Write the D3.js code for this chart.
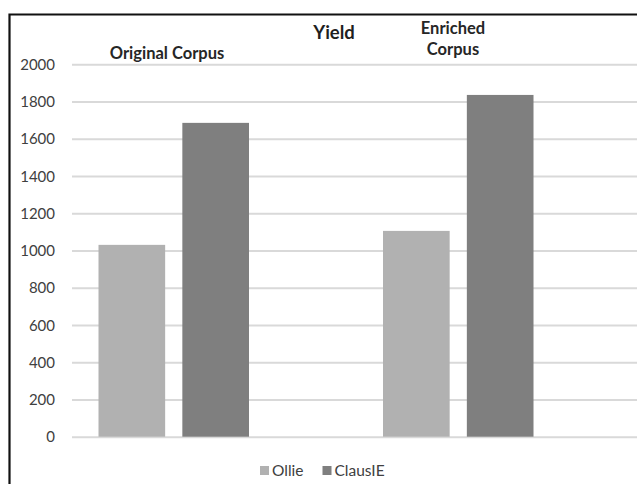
<!DOCTYPE html>
<html>
<head>
<meta charset="utf-8">
<script src="https://cdn.jsdelivr.net/npm/d3@7"></script>
<style>
  html, body { margin: 0; padding: 0; background: #fff; }
  svg { display: block; }
  text { font-family: Lato, "Open Sans", sans-serif; }
</style>
</head>
<body>
<svg id="chart" width="637" height="484"></svg>
<script>
// Yield of extracted facts per system, on the original and enriched corpus
const categories = ["Original Corpus", "Enriched Corpus"];
const series = ["Ollie", "ClausIE"];
const ollieValues = [1030, 1105];
const clausieValues = [1685, 1835];
const yTicks = [0, 200, 400, 600, 800, 1000, 1200, 1400, 1600, 1800, 2000];
const title = "Yield";

const colors = { Ollie: "#b1b1b1", ClausIE: "#7f7f7f" };
const valuesBySeries = { Ollie: ollieValues, ClausIE: clausieValues };

const svg = d3.select("#chart");

// frame around the chart area (right/bottom run past the canvas)
svg.append("path")
  .attr("d", "M9.5,500 V14.5 H660")
  .attr("fill", "none")
  .attr("stroke", "#111")
  .attr("stroke-width", 2.2);

const plot = { left: 72, right: 645, top: 64.2, bottom: 436.7 };

const y = d3.scaleLinear().domain([0, 2000]).range([plot.bottom, plot.top]);

const x0 = d3.scaleBand().domain(categories).range([31.5, 600.5]).paddingInner(0).paddingOuter(0);
const groupWidth = 150.5;
const x1 = d3.scaleBand().domain(series).range([0, groupWidth]).paddingInner(0.205).paddingOuter(0);

// horizontal gridlines with value labels
const yAxis = d3.axisLeft(y).tickValues(yTicks).tickSize(-(plot.right - plot.left)).tickFormat(d3.format("d"));
const gAxis = svg.append("g").attr("transform", `translate(${plot.left},0)`).call(yAxis);
gAxis.select(".domain").remove();
gAxis.selectAll(".tick line").attr("stroke", "#d9d9d9").attr("stroke-width", 2);
gAxis.selectAll(".tick text")
  .attr("fill", "#404040")
  .attr("font-size", "15px")
  .attr("x", 55 - plot.left)
  .attr("dy", "0.34em");

// bars
const groups = svg.append("g").selectAll("g")
  .data(categories)
  .join("g")
  .attr("transform", d => `translate(${x0(d) + x0.bandwidth() / 2 - groupWidth / 2},0)`);

groups.selectAll("rect")
  .data((c, i) => series.map(s => ({ s, v: valuesBySeries[s][i] })))
  .join("rect")
  .attr("x", d => x1(d.s))
  .attr("width", x1.bandwidth())
  .attr("y", d => y(d.v))
  .attr("height", d => y(0) - y(d.v))
  .attr("fill", d => colors[d.s]);

// category captions above the plot
svg.append("text")
  .attr("x", 167).attr("y", 59)
  .attr("text-anchor", "middle")
  .attr("font-size", "16.5px").attr("font-weight", "bold").attr("fill", "#262626")
  .text(categories[0]);

const enriched = svg.append("text")
  .attr("text-anchor", "middle")
  .attr("font-size", "16.5px").attr("font-weight", "bold").attr("fill", "#262626");
categories[1].split(" ").forEach((w, i) => {
  enriched.append("tspan").attr("x", 453).attr("y", 34 + i * 21).text(w);
});

// title
svg.append("text")
  .attr("x", 334).attr("y", 39)
  .attr("text-anchor", "middle")
  .attr("font-size", "18.5px").attr("font-weight", "bold").attr("fill", "#1f1f1f")
  .text(title);

// legend
const legendItems = [
  { s: "Ollie", x: 260 },
  { s: "ClausIE", x: 322.5 }
];
const lg = svg.append("g").selectAll("g").data(legendItems).join("g")
  .attr("transform", d => `translate(${d.x},466)`);
lg.append("rect").attr("width", 9).attr("height", 9).attr("fill", d => colors[d.s]);
lg.append("text")
  .attr("x", 12).attr("y", 9.5)
  .attr("font-size", "15.5px").attr("fill", "#404040")
  .text(d => d.s);
</script>
</body>
</html>
